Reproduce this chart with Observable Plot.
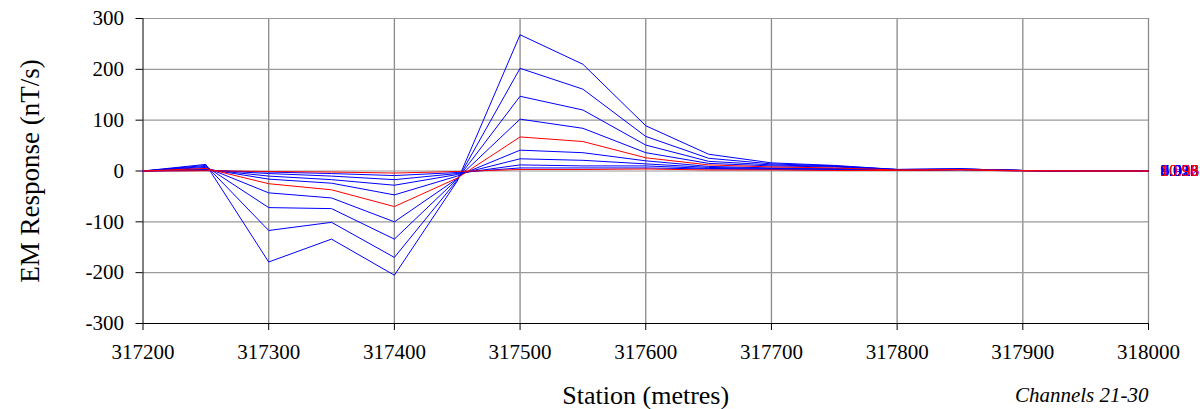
<!DOCTYPE html>
<html>
<head>
<meta charset="utf-8">
<script src="https://cdn.jsdelivr.net/npm/d3@7"></script>
<script src="https://cdn.jsdelivr.net/npm/@observablehq/plot@0.6"></script>
<style>
  html, body { margin: 0; padding: 0; background: #fff; }
  #chart { width: 1200px; height: 409px; }
  #chart svg, #chart svg text { font-family: "Liberation Serif", Tinos, "Times New Roman", Times, serif !important; }
</style>
</head>
<body>
<div id="chart"></div>
<script>
// Stations (metres)
const stations = [317200, 317250, 317300, 317350, 317400, 317450, 317500, 317550, 317600,
                  317650, 317700, 317750, 317800, 317850, 317900, 317950, 318000];

// EM response (nT/s) per channel, one value per station
const ch21 = [0, 13, -179, -134, -205, -20, 268, 210, 89, 33, 16, 11, 3, 4, 1, -1, 0];
const ch22 = [0, 11, -117, -101, -170, -18, 202, 161, 68, 25, 14, 10, 3, 4, 1, -1, 0];
const ch23 = [0, 9, -72, -74, -134, -16, 147, 120, 51, 19, 12, 9, 3, 4, 1, 0, 0];
const ch24 = [0, 7, -43, -53, -100, -15, 102, 84, 36, 15, 10, 8, 2, 4, 1, 0, 0];
const ch25 = [0, 5, -25, -37, -70, -14, 67, 58, 26, 12, 8, 6, 2, 3, 1, 0, 0];
const ch26 = [0, 4, -16, -24, -47, -10, 41, 36, 20, 9, 6, 5, 2, 3, 1, 0, 0];
const ch27 = [0, 3, -10, -17, -28, -7, 24, 21, 14, 7, 5, 4, 2, 3, 1, 0, 0];
const ch28 = [0, 2, -5, -10, -17, -5, 12, 10, 10, 5, 4, 3, 1, 3, 1, 0, 0];
const ch29 = [0, 1, -2, -5, -9, -3, 6, 6, 6, 4, 3, 2, 1, 2, 0, 0, 0];
const ch30 = [0, 0.5, -1, -2, -4, -1, 3, 3, 4, 2, 2, 1, 1, 2, 0, 0, 0];

const channelNames = ["Ch 21", "Ch 22", "Ch 23", "Ch 24", "Ch 25", "Ch 26", "Ch 27", "Ch 28", "Ch 29", "Ch 30"];
const channelValues = [ch21, ch22, ch23, ch24, ch25, ch26, ch27, ch28, ch29, ch30];
const channelColors = ["blue", "blue", "blue", "blue", "red", "blue", "blue", "blue", "blue", "red"];
// end-of-line labels (overprinted at the right edge)
const endLabels = ["5.028", "8.022", "6.513", "9.036", "10.93", "5.928", "7.026", "8.033", "9.958", "10.96"];

const xTicks = [317200, 317300, 317400, 317500, 317600, 317700, 317800, 317900, 318000];
const yTicks = [-300, -200, -100, 0, 100, 200, 300];

const colorMap = {blue: "#0000ff", red: "#ff0000"};

const rows = channelNames.flatMap((name, i) =>
  stations.map((s, j) => ({channel: name, station: s, value: channelValues[i][j], color: colorMap[channelColors[i]]}))
);
// draw blue first, red on top
const drawOrder = channelNames.map((n, i) => i).sort((a, b) => (channelColors[a] === "red") - (channelColors[b] === "red"));
const labelRows = drawOrder.map(i => ({
  station: stations[stations.length - 1],
  value: channelValues[i][stations.length - 1],
  text: endLabels[i],
  color: colorMap[channelColors[i]]
}));

const font = "'Liberation Serif', Tinos, 'Times New Roman', Times, serif";

const chart = Plot.plot({
  width: 1200,
  height: 409,
  marginLeft: 142.5,
  marginRight: 52,
  marginTop: 18,
  marginBottom: 86,
  style: {color: "#000", background: "#fff", overflow: "visible"},
  x: {domain: [317200, 318000]},
  y: {domain: [-300, 300]},
  marks: [
    Plot.ruleX(xTicks.slice(1), {stroke: "#8a8a8a", strokeWidth: 1.3}),
    Plot.ruleY(yTicks.slice(1), {stroke: "#9a9a9a", strokeWidth: 1.1}),
    Plot.ruleX([317200], {stroke: "#000", strokeWidth: 1}),
    Plot.ruleY([-300], {stroke: "#000", strokeWidth: 1}),
    Plot.axisX({ticks: xTicks, tickFormat: d => String(d), tickSize: 7, tickPadding: 14, fontSize: 21, fontFamily: font, label: null, stroke: "#000"}),
    Plot.axisY({ticks: yTicks, tickFormat: d => String(d), tickSize: 7, tickPadding: 12, fontSize: 21, fontFamily: font, label: null, stroke: "#000"}),
    ...drawOrder.map(i => Plot.line(rows.filter(r => r.channel === channelNames[i]), {
      x: "station", y: "value", stroke: colorMap[channelColors[i]], strokeWidth: 1
    })),
    Plot.text(labelRows, {x: "station", y: "value", text: "text", fill: "color", textAnchor: "start", dx: 12, fontSize: 17, fontFamily: font}),
    Plot.text(["EM Response (nT/s)"], {frameAnchor: "left", textAnchor: "middle", lineAnchor: "middle", rotate: -90, dx: -113, fontSize: 27, fontFamily: font, fill: "#000"}),
    Plot.text(["Station (metres)"], {frameAnchor: "bottom", textAnchor: "middle", lineAnchor: "middle", dy: 72, fontSize: 26, fontFamily: font, fill: "#000"}),
    Plot.text(["Channels 21-30"], {frameAnchor: "bottom-right", textAnchor: "end", lineAnchor: "middle", dy: 72, fontSize: 21, fontFamily: font, fontStyle: "italic", fill: "#000"})
  ]
});
document.getElementById("chart").appendChild(chart);
</script>
</body>
</html>
